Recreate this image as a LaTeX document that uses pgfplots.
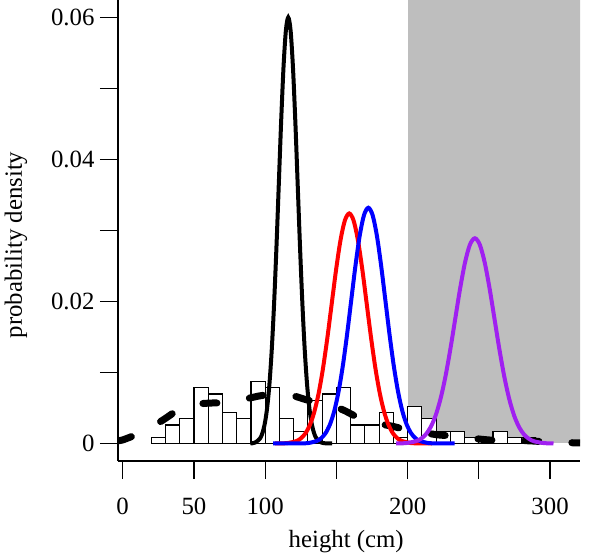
\documentclass[border=0pt]{standalone}
\usepackage{fontspec}
\setmainfont{Liberation Serif}
\usepackage{pgfplots}
\pgfplotsset{compat=1.18}
\definecolor{shade}{RGB}{190,190,190}
\definecolor{rpurple}{RGB}{160,32,240}
\begin{document}
\begin{tikzpicture}
\begin{axis}[
  name=ax,
  scale only axis, width=462pt, height=461pt,
  xmin=-3.3, xmax=321, ymin=-0.002465, ymax=0.06246,
  axis lines*=left,
  axis line style={line width=1.2pt},
  tick style={line width=1.2pt, black},
  tick align=outside,
  major tick length=18pt,
  xtick={0,50,100,150,200,250,300},
  xticklabels={0,50,100,,200,,300},
  ytick={0,0.01,0.02,0.03,0.04,0.05,0.06},
  yticklabels={0,,0.02,,0.04,,0.06},
  scaled y ticks=false,
  ticklabel style={font=\fontsize{24.8}{30}\selectfont},
  xticklabel style={yshift=-15pt},
  yticklabel style={xshift=-2pt},
  label style={font=\fontsize{24.8}{30}\selectfont},
  xlabel={height (cm)},
  ylabel={probability density},
  xlabel style={at={(axis description cs:0.494,0)}, anchor=base, yshift=-86pt},
  ylabel style={at={(axis description cs:-0.2208,0.4686)}, anchor=center},
]
% shaded region
\addplot[fill=shade, draw=none] coordinates {(200,0) (400,0) (400,0.1) (200,0.1)} -- cycle;
% histogram (density)
\addplot[ybar interval, fill=white, draw=black, line width=1.2pt] coordinates {
(20,0.00087) (30,0.00261) (40,0.00348) (50,0.00783) (60,0.00696) (70,0.00435)
(80,0.00348) (90,0.00870) (100,0.00783) (110,0.00348) (120,0.00174) (130,0.00609)
(140,0.00696) (150,0.00783) (160,0.00261) (170,0.00261) (180,0.00435) (190,0.00087)
(200,0.00522) (210,0.00348) (220,0.00174) (230,0.00174) (240,0.00087) (250,0.00087)
(260,0.00174) (270,0.00087) (280,0.00087) (290,0.00087)};
% kernel density estimate
\addplot[black, line width=7pt, dash pattern=on 14pt off 33pt, line cap=round, smooth] coordinates {
(-3.3,0.0004) (0,0.0005) (12,0.00145) (20,0.0023) (29,0.0034) (41,0.0050) (50,0.0055)
(62,0.0057) (70,0.0057) (77,0.0058) (85,0.0062) (96,0.0067) (105,0.0069) (112,0.0069)
(120,0.0067) (130,0.0061) (145,0.0054) (155,0.0047) (164,0.0038) (178,0.0029)
(190,0.0024) (198,0.0020) (212,0.0015) (222,0.0012) (232,0.00106) (247,0.0007)
(257,0.0005) (267,0.0004) (282,0.0004) (292,0.0003) (302,0.00015) (318,0.0001) (321,0.0001)};
% black normal
\addplot[black, line width=4pt, smooth] coordinates {
(89.6,0) (92.9,0.00013) (96.25,0.00067) (97.91,0.00137) (99.58,0.00264) (101.24,0.00477)
(102.9,0.00812) (104.56,0.01298) (106.22,0.01948) (107.89,0.02747) (109.55,0.03639)
(111.21,0.04529) (112.87,0.05295) (114.54,0.05815) (116.2,0.0600) (117.86,0.05815)
(119.52,0.05295) (121.19,0.04529) (122.85,0.03639) (124.51,0.02747) (126.18,0.01948)
(127.84,0.01298) (129.5,0.00812) (131.16,0.00477) (132.82,0.00264) (134.49,0.00137)
(136.15,0.00067) (139.5,0.00013) (142.8,0.00002) (147,0)};
% red normal
\addplot[red, line width=4pt, smooth] coordinates {
(107,0) (109.8,0.00001) (115.95,0.00007) (122.1,0.00036) (125.18,0.00074) (128.25,0.00142)
(131.33,0.00258) (134.4,0.00439) (137.48,0.00701) (140.55,0.01052) (143.63,0.01483)
(146.7,0.01965) (149.78,0.02446) (152.85,0.02859) (155.93,0.03140) (159,0.0324)
(162.08,0.03140) (165.15,0.02859) (168.23,0.02446) (171.3,0.01965) (174.38,0.01483)
(177.45,0.01052) (180.53,0.00701) (183.6,0.00439) (186.68,0.00258) (189.75,0.00142)
(192.83,0.00074) (195.9,0.00036) (202.05,0.00007) (208.2,0.00001) (217,0)};
% blue normal
\addplot[blue, line width=4pt, smooth] coordinates {
(105.6,0) (124.4,0.00001) (130.4,0.00007) (136.4,0.00037) (139.4,0.00076) (142.4,0.00146)
(145.4,0.00264) (148.4,0.00449) (151.4,0.00718) (154.4,0.01078) (157.4,0.01520)
(160.4,0.02014) (163.4,0.02506) (166.4,0.02930) (169.4,0.03218) (172.4,0.0332)
(175.4,0.03218) (178.4,0.02930) (181.4,0.02506) (184.4,0.02014) (187.4,0.01520)
(190.4,0.01078) (193.4,0.00718) (196.4,0.00449) (199.4,0.00264) (202.4,0.00146)
(205.4,0.00076) (208.4,0.00037) (214.4,0.00007) (220.4,0.00001) (233,0)};
% purple normal
\addplot[rpurple, line width=4pt, smooth] coordinates {
(192.0,0.00001) (198.9,0.00006) (205.8,0.00032) (209.35,0.00066) (212.7,0.00127)
(216.15,0.00230) (219.6,0.00391) (223.05,0.00625) (226.5,0.00938) (229.95,0.01323)
(233.4,0.01753) (236.85,0.02182) (240.3,0.02550) (243.75,0.02801) (247.2,0.0289)
(250.65,0.02801) (254.1,0.02550) (257.55,0.02182) (261.0,0.01753) (264.45,0.01323)
(267.9,0.00938) (271.35,0.00625) (274.8,0.00391) (278.25,0.00230) (281.7,0.00127)
(285.15,0.00066) (288.6,0.00032) (295.5,0.00006) (302.4,0.00001)};
\end{axis}
\pgfresetboundingbox
\path[use as bounding box] ([shift={(-118pt,-96pt)}]ax.south west) rectangle ([shift={(23pt,0pt)}]ax.north east);
\end{tikzpicture}
\end{document}
